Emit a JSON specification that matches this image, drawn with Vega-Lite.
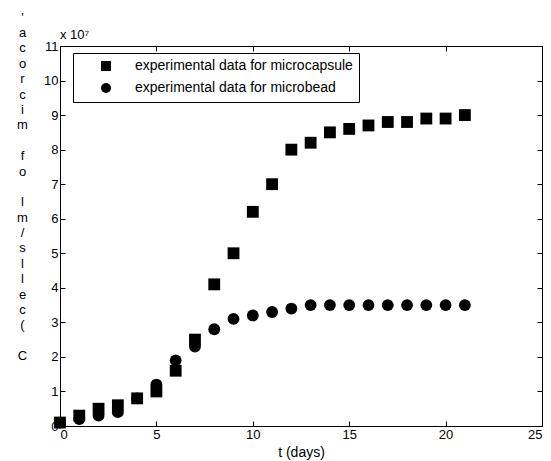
{
  "$schema": "https://vega.github.io/schema/vega-lite/v6.json",
  "autosize": "none",
  "width": 482,
  "height": 380,
  "padding": {"left": 60, "top": 46, "right": 9, "bottom": 35},
  "config": {
    "font": "Liberation Sans",
    "view": {"stroke": "black", "strokeWidth": 1},
    "axis": {"domainColor": "black", "tickColor": "black", "labelColor": "black", "titleColor": "black", "labelFontSize": 13, "titleFontSize": 14, "titleFontWeight": "normal", "grid": false, "tickSize": -5, "labelPadding": 7}
  },
  "datasets": {
    "pts": [
      {"t": 0, "c": 0.1, "s": "experimental data for microcapsule"},
      {"t": 1, "c": 0.3, "s": "experimental data for microcapsule"},
      {"t": 2, "c": 0.5, "s": "experimental data for microcapsule"},
      {"t": 3, "c": 0.6, "s": "experimental data for microcapsule"},
      {"t": 4, "c": 0.8, "s": "experimental data for microcapsule"},
      {"t": 5, "c": 1.0, "s": "experimental data for microcapsule"},
      {"t": 6, "c": 1.6, "s": "experimental data for microcapsule"},
      {"t": 7, "c": 2.5, "s": "experimental data for microcapsule"},
      {"t": 8, "c": 4.1, "s": "experimental data for microcapsule"},
      {"t": 9, "c": 5.0, "s": "experimental data for microcapsule"},
      {"t": 10, "c": 6.2, "s": "experimental data for microcapsule"},
      {"t": 11, "c": 7.0, "s": "experimental data for microcapsule"},
      {"t": 12, "c": 8.0, "s": "experimental data for microcapsule"},
      {"t": 13, "c": 8.2, "s": "experimental data for microcapsule"},
      {"t": 14, "c": 8.5, "s": "experimental data for microcapsule"},
      {"t": 15, "c": 8.6, "s": "experimental data for microcapsule"},
      {"t": 16, "c": 8.7, "s": "experimental data for microcapsule"},
      {"t": 17, "c": 8.8, "s": "experimental data for microcapsule"},
      {"t": 18, "c": 8.8, "s": "experimental data for microcapsule"},
      {"t": 19, "c": 8.9, "s": "experimental data for microcapsule"},
      {"t": 20, "c": 8.9, "s": "experimental data for microcapsule"},
      {"t": 21, "c": 9.0, "s": "experimental data for microcapsule"},
      {"t": 0, "c": 0.1, "s": "experimental data for microbead"},
      {"t": 1, "c": 0.2, "s": "experimental data for microbead"},
      {"t": 2, "c": 0.3, "s": "experimental data for microbead"},
      {"t": 3, "c": 0.4, "s": "experimental data for microbead"},
      {"t": 4, "c": 0.8, "s": "experimental data for microbead"},
      {"t": 5, "c": 1.2, "s": "experimental data for microbead"},
      {"t": 6, "c": 1.9, "s": "experimental data for microbead"},
      {"t": 7, "c": 2.3, "s": "experimental data for microbead"},
      {"t": 8, "c": 2.8, "s": "experimental data for microbead"},
      {"t": 9, "c": 3.1, "s": "experimental data for microbead"},
      {"t": 10, "c": 3.2, "s": "experimental data for microbead"},
      {"t": 11, "c": 3.3, "s": "experimental data for microbead"},
      {"t": 12, "c": 3.4, "s": "experimental data for microbead"},
      {"t": 13, "c": 3.5, "s": "experimental data for microbead"},
      {"t": 14, "c": 3.5, "s": "experimental data for microbead"},
      {"t": 15, "c": 3.5, "s": "experimental data for microbead"},
      {"t": 16, "c": 3.5, "s": "experimental data for microbead"},
      {"t": 17, "c": 3.5, "s": "experimental data for microbead"},
      {"t": 18, "c": 3.5, "s": "experimental data for microbead"},
      {"t": 19, "c": 3.5, "s": "experimental data for microbead"},
      {"t": 20, "c": 3.5, "s": "experimental data for microbead"},
      {"t": 21, "c": 3.5, "s": "experimental data for microbead"}
    ],
    "note": [{"t": 0, "c": 11, "label": "x 10⁷"}]
  },
  "layer": [
    {
      "data": {"name": "pts"},
      "mark": {"type": "point", "filled": true, "opacity": 1, "size": 140, "color": "black"},
      "encoding": {
        "x": {"field": "t", "type": "quantitative", "scale": {"domain": [0, 25], "nice": false}, "axis": {"title": "t (days)", "values": [0, 5, 10, 15, 20, 25], "titlePadding": 4}},
        "y": {"field": "c", "type": "quantitative", "scale": {"domain": [0, 11], "nice": false}, "axis": {"values": [0,1,2,3,4,5,6,7,8,9,10,11], "title": ["'", "a", "c", "o", "r", "c", "i", "m", "\u200b", "f", "o", "\u200b", "l", "m", "/", "s", "l", "l", "e", "c", "(", "\u200b", "C"], "titleAngle": 0, "titleFontSize": 13, "titleLineHeight": 15.4, "titleX": -38, "titleY": -35, "titleBaseline": "top", "titleAlign": "center"}},
        "shape": {"field": "s", "type": "nominal", "sort": ["experimental data for microcapsule", "experimental data for microbead"], "scale": {"range": ["square", "circle"]}, "legend": {"title": null, "orient": "none", "legendX": 13, "legendY": 7, "strokeColor": "black", "fillColor": "white", "padding": 6, "labelFontSize": 14, "labelColor": "black", "symbolFillColor": "black", "symbolStrokeColor": "black", "symbolSize": 100, "symbolOffset": 20, "labelOffset": 22, "rowPadding": 6, "labelLimit": 400}}
      }
    },
    {
      "data": {"name": "pts"},
      "mark": {"type": "point", "opacity": 0},
      "encoding": {
        "x": {"field": "t", "type": "quantitative", "axis": {"orient": "top", "labels": false, "title": null, "values": [0, 5, 10, 15, 20, 25]}},
        "y": {"field": "c", "type": "quantitative", "axis": {"orient": "right", "labels": false, "title": null, "values": [0,1,2,3,4,5,6,7,8,9,10,11]}}
      }
    },
    {
      "data": {"name": "note"},
      "mark": {"type": "text", "align": "left", "baseline": "bottom", "dy": -4, "dx": 0, "fontSize": 13, "color": "black"},
      "encoding": {
        "x": {"field": "t", "type": "quantitative", "axis": null},
        "y": {"field": "c", "type": "quantitative", "axis": null},
        "text": {"field": "label"}
      }
    }
  ],
  "resolve": {"axis": {"x": "independent", "y": "independent"}}
}
